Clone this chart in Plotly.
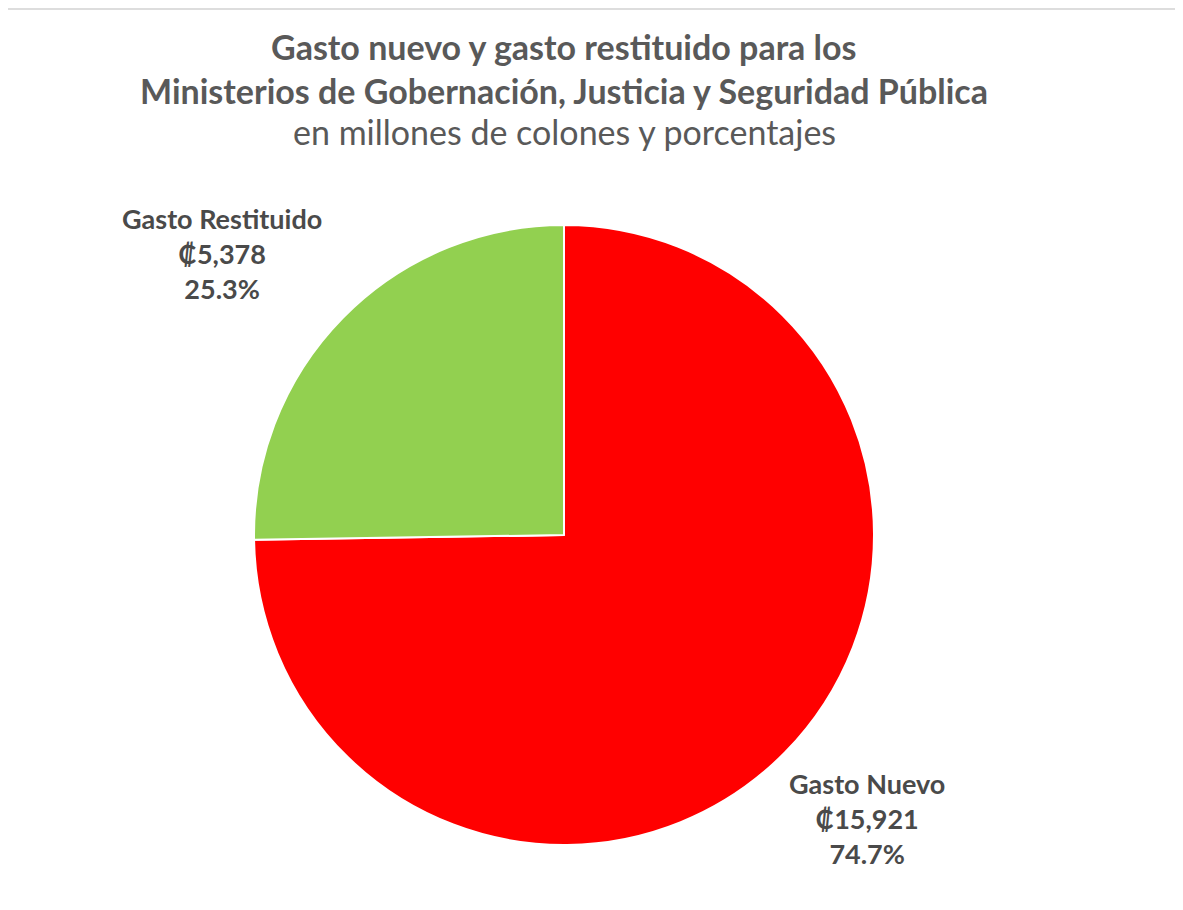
import plotly.graph_objects as go

categories = ["Gasto Nuevo", "Gasto Restituido"]
values = [15921, 5378]
colors = ["#FF0000", "#92D050"]

title_lines = [
    "Gasto nuevo y gasto restituido para los",
    "Ministerios de Gobernación, Justicia y Seguridad Pública",
    "en millones de colones y porcentajes",
]

total = sum(values)
pcts = [v / total * 100 for v in values]

# page body has an 8px margin; work in reference pixels minus that offset
OFF = 8
W, H = 1183 - OFF, 910 - OFF


def px(x):
    return (x - OFF) / W


def py(y):
    return 1 - (y - OFF) / H


fig = go.Figure()
fig.add_trace(go.Pie(
    labels=categories,
    values=values,
    sort=False,
    direction="clockwise",
    rotation=0,
    marker=dict(colors=colors, line=dict(color="white", width=2)),
    textinfo="none",
    hoverinfo="label+value+percent",
    showlegend=False,
    domain=dict(x=[px(564 - 310), px(564 + 310)], y=[py(845), py(225)]),
))

font_family = "Lato, 'Open Sans', sans-serif"
title_color = "#595959"
label_color = "#4a4a4a"

for i, (line, ypix) in enumerate(zip(title_lines, [47, 90, 132])):
    fig.add_annotation(
        text=(f"<b>{line}</b>" if i < 2 else line),
        x=px(564), y=py(ypix), xref="paper", yref="paper",
        xanchor="center", yanchor="middle", showarrow=False,
        font=dict(family=font_family, size=34, color=title_color),
    )

label_pos = [(867, 818), (222, 254)]
for cat, val, pct, (lx, ly) in zip(categories, values, pcts, label_pos):
    fig.add_annotation(
        text=f"<b>{cat}<br>₡{val:,}<br>{pct:.1f}%</b>",
        x=px(lx), y=py(ly), xref="paper", yref="paper",
        xanchor="center", yanchor="middle", showarrow=False,
        align="center",
        font=dict(family=font_family, size=27, color=label_color),
    )

fig.add_shape(type="line", xref="paper", yref="paper", x0=0, x1=1,
              y0=py(9), y1=py(9), line=dict(color="#dddddd", width=2))

fig.update_layout(
    width=W, height=H,
    margin=dict(l=0, r=0, t=0, b=0),
    paper_bgcolor="white", plot_bgcolor="white",
)

fig.write_html("out.html")
